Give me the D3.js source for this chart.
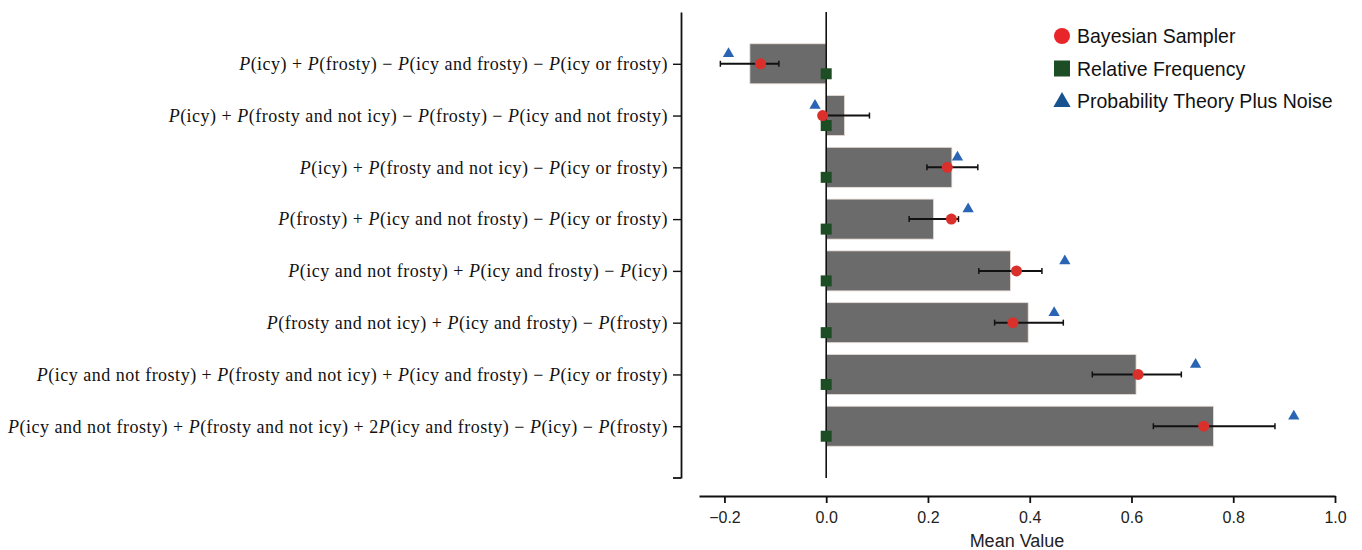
<!DOCTYPE html>
<html>
<head>
<meta charset="utf-8">
<script src="https://cdn.jsdelivr.net/npm/d3@7"></script>
<style>
  body { margin: 0; background: #fff; }
  svg { display: block; }
</style>
</head>
<body>
<svg width="1362" height="550"></svg>
<script>
// data
const categories = [
  "P(icy) + P(frosty) − P(icy and frosty) − P(icy or frosty)",
  "P(icy) + P(frosty and not icy) − P(frosty) − P(icy and not frosty)",
  "P(icy) + P(frosty and not icy) − P(icy or frosty)",
  "P(frosty) + P(icy and not frosty) − P(icy or frosty)",
  "P(icy and not frosty) + P(icy and frosty) − P(icy)",
  "P(frosty and not icy) + P(icy and frosty) − P(frosty)",
  "P(icy and not frosty) + P(frosty and not icy) + P(icy and frosty) − P(icy or frosty)",
  "P(icy and not frosty) + P(frosty and not icy) + 2P(icy and frosty) − P(icy) − P(frosty)"
];
const meanValues = [-0.150, 0.036, 0.247, 0.211, 0.362, 0.397, 0.609, 0.761];
const bayesSampler = [-0.129, -0.007, 0.238, 0.246, 0.374, 0.367, 0.613, 0.742];
const errLow = [-0.208, -0.012, 0.198, 0.163, 0.300, 0.331, 0.523, 0.643];
const errHigh = [-0.093, 0.085, 0.298, 0.260, 0.424, 0.466, 0.698, 0.882];
const relFrequency = [0, 0, 0, 0, 0, 0, 0, 0];
const ptnValues = [-0.192, -0.022, 0.258, 0.279, 0.469, 0.448, 0.726, 0.919];
const xTicks = [-0.2, 0.0, 0.2, 0.4, 0.6, 0.8, 1.0];
const legendNames = ["Bayesian Sampler", "Relative Frequency", "Probability Theory Plus Noise"];

const rows = categories.map((c, i) => ({
  cat: c, mean: meanValues[i], bs: bayesSampler[i], lo: errLow[i], hi: errHigh[i],
  rf: relFrequency[i], ptn: ptnValues[i]
}));

const svg = d3.select('svg');
const sansFont = '"Liberation Sans Narrow", "Liberation Sans", Arial, sans-serif';

const x = d3.scaleLinear().domain([-0.25, 1.0]).range([699, 1335]);
const y = d3.scalePoint().domain(categories).range([12, 478]).padding(1);
const barH = 40;

// bars
svg.append('g').selectAll('rect')
  .data(rows).enter().append('rect')
  .attr('x', d => x(Math.min(0, d.mean)))
  .attr('y', d => y(d.cat) - barH / 2)
  .attr('width', d => Math.abs(x(d.mean) - x(0)))
  .attr('height', barH)
  .attr('fill', '#6b6b6b')
  .attr('stroke', '#e9dcd6')
  .attr('stroke-width', 0.8);

// zero line
svg.append('line')
  .attr('x1', x(0)).attr('x2', x(0))
  .attr('y1', 12).attr('y2', 478)
  .attr('stroke', '#111').attr('stroke-width', 1.6);

// left axis
const yAxis = svg.append('g')
  .attr('transform', 'translate(681,0)')
  .call(d3.axisLeft(y).tickSize(8).tickSizeOuter(0).tickFormat(''));
yAxis.select('.domain').attr('stroke', '#111').attr('stroke-width', 1.8);
yAxis.selectAll('.tick line').attr('stroke', '#111').attr('stroke-width', 1.4);
yAxis.append('line')
  .attr('x1', -8).attr('x2', 0).attr('y1', 478).attr('y2', 478)
  .attr('stroke', '#111').attr('stroke-width', 1.8);

// math labels with italic P
const labels = svg.append('g')
  .attr('font-family', '"Liberation Serif", "DejaVu Serif", serif')
  .attr('font-size', 18)
  .attr('letter-spacing', 0.5)
  .attr('fill', '#111');
rows.forEach(d => {
  const t = labels.append('text')
    .attr('x', 668)
    .attr('y', y(d.cat))
    .attr('dy', '0.35em')
    .attr('text-anchor', 'end');
  const parts = d.cat.split('P(');
  parts.forEach((p, k) => {
    if (k === 0) {
      if (p) t.append('tspan').text(p);
      return;
    }
    t.append('tspan').attr('font-style', 'italic').text('P');
    t.append('tspan').text('(' + p);
  });
});

// bottom axis
const xAxis = svg.append('g')
  .attr('transform', 'translate(0,496)')
  .call(d3.axisBottom(x).tickValues(xTicks).tickSize(7).tickSizeOuter(0).tickFormat(d3.format('.1f')));
xAxis.select('.domain').attr('stroke', '#111').attr('stroke-width', 1.8);
xAxis.selectAll('.tick line').attr('stroke', '#111').attr('stroke-width', 1.8);
xAxis.selectAll('.tick text')
  .attr('font-family', sansFont)
  .attr('font-size', 16)
  .attr('fill', '#222')
  .attr('dy', '1.05em');

svg.append('text')
  .attr('x', x(0.375)).attr('y', 547)
  .attr('text-anchor', 'middle')
  .attr('font-family', sansFont)
  .attr('font-size', 18)
  .attr('fill', '#222')
  .text('Mean Value');

// error bars
const eb = svg.append('g').attr('stroke', '#111').attr('stroke-width', 2);
eb.selectAll('.eb').data(rows).enter().append('line')
  .attr('x1', d => x(d.lo)).attr('x2', d => x(d.hi))
  .attr('y1', d => y(d.cat)).attr('y2', d => y(d.cat));
eb.selectAll('.capl').data(rows).enter().append('line')
  .attr('x1', d => x(d.lo)).attr('x2', d => x(d.lo))
  .attr('y1', d => y(d.cat) - 3).attr('y2', d => y(d.cat) + 3)
  .attr('stroke-width', 1.5);
eb.selectAll('.caph').data(rows).enter().append('line')
  .attr('x1', d => x(d.hi)).attr('x2', d => x(d.hi))
  .attr('y1', d => y(d.cat) - 3).attr('y2', d => y(d.cat) + 3)
  .attr('stroke-width', 1.5);

// relative frequency squares
svg.append('g').selectAll('rect')
  .data(rows).enter().append('rect')
  .attr('x', d => x(d.rf) - 5.5)
  .attr('y', d => y(d.cat) + 10 - 5.5)
  .attr('width', 11).attr('height', 11)
  .attr('fill', '#1d4d24');

// bayesian sampler dots
svg.append('g').selectAll('circle')
  .data(rows).enter().append('circle')
  .attr('cx', d => x(d.bs))
  .attr('cy', d => y(d.cat))
  .attr('r', 5.5)
  .attr('fill', '#d9302c');

// probability theory plus noise triangles
const tri = d3.symbol().type(d3.symbolTriangle).size(55);
svg.append('g').selectAll('path')
  .data(rows).enter().append('path')
  .attr('d', tri)
  .attr('transform', d => `translate(${x(d.ptn)},${y(d.cat) - 10})`)
  .attr('fill', '#2a64b4');

// legend
const legend = svg.append('g')
  .attr('font-family', sansFont)
  .attr('font-size', 21)
  .attr('fill', '#111');
legendNames.forEach((name, i) => {
  const ly = 36 + i * 32.5;
  if (i === 0) legend.append('circle').attr('cx', 1062).attr('cy', ly).attr('r', 8).attr('fill', '#e8262a');
  if (i === 1) legend.append('rect').attr('x', 1054).attr('y', ly - 8).attr('width', 16).attr('height', 16).attr('fill', '#1d4d24');
  if (i === 2) legend.append('path').attr('d', d3.symbol().type(d3.symbolTriangle).size(130))
    .attr('transform', `translate(1062,${ly + 1})`).attr('fill', '#17548f');
  legend.append('text')
    .attr('transform', `translate(1077,${ly}) scale(0.93,1)`)
    .attr('dy', '0.35em').text(name);
});
</script>
</body>
</html>
